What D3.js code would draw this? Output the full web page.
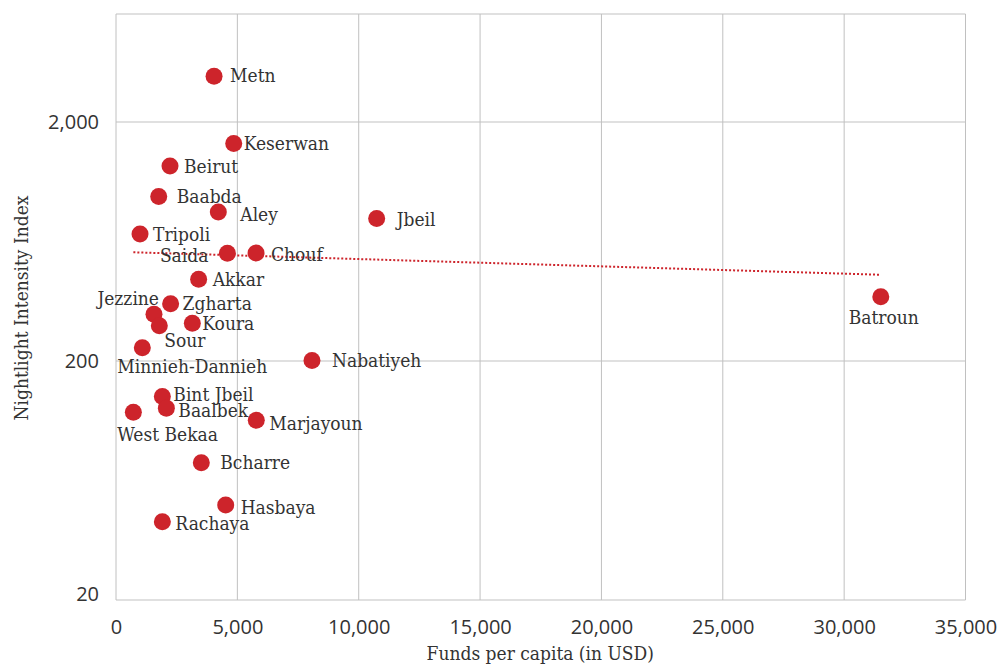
<!DOCTYPE html>
<html><head><meta charset="utf-8">
<script src="https://cdn.jsdelivr.net/npm/d3@7"></script>
<style>
html,body{margin:0;padding:0;background:#fff;}
svg{display:block;}
</style></head>
<body>
<svg id="chart" width="1000" height="664"></svg>
<script>
// ---- data ----
const districts = ["Metn","Keserwan","Beirut","Baabda","Aley","Tripoli","Saida","Chouf","Akkar","Zgharta","Jezzine","Sour","Koura","Minnieh-Dannieh","Nabatiyeh","Bint Jbeil","Baalbek","West Bekaa","Marjayoun","Bcharre","Hasbaya","Rachaya","Jbeil","Batroun"];
const fundsPerCapita = [4040,4850,2225,1760,4215,990,4590,5770,3405,2250,1565,1785,3145,1085,8075,1910,2075,715,5780,3515,4520,1910,10740,31510];
const nightlightIndex = [3110,1625,1310,975,840,680,565,566,440,347,314,281,288,227,201,142,127,122,113,75,50,42.5,790,371];
const trendX = [715,31510];
const trendY = [570,459];
const xTicks = [0,5000,10000,15000,20000,25000,30000,35000];
const yTicks = [20,200,2000];
const yMax = 5660;
const xTitle = "Funds per capita (in USD)";
const yTitle = "Nightlight Intensity Index";

// ---- label placement (layout only) ----
const labelPos = {
  "Metn":[16,-1,"start"],"Keserwan":[10,0,"start"],"Beirut":[14,0,"start"],"Baabda":[18,0,"start"],
  "Aley":[22,2,"start"],"Tripoli":[13,0,"start"],"Saida":[-19,2,"end"],"Chouf":[15,1,"start"],
  "Akkar":[14,0,"start"],"Zgharta":[12,0,"start"],"Jezzine":[5,-16,"end"],"Sour":[5,15,"start"],
  "Koura":[10,0,"start"],"Minnieh-Dannieh":[-25,19,"start"],"Nabatiyeh":[20,0,"start"],
  "Bint Jbeil":[11,-2,"start"],"Baalbek":[12,2,"start"],"West Bekaa":[-16,22,"start"],
  "Marjayoun":[13,3,"start"],"Bcharre":[19,0,"start"],"Hasbaya":[15,2,"start"],"Rachaya":[13,2,"start"],
  "Jbeil":[20,1,"start"],"Batroun":[3,20,"middle"]
};

const svg = d3.select("#chart");
const L = 116, R = 965.5, T = 14, B = 600;
const x = d3.scaleLinear().domain([0,35000]).range([L,R]);
const y = d3.scaleLog().domain([20,yMax]).range([B,T]);
const red = "#cd242b", txt = "#333";
const labelFont = "'DejaVu Serif Condensed','DejaVu Serif',serif";
const tickFont = "'Open Sans','Noto Sans',sans-serif";

// horizontal gridlines
svg.append("g").selectAll("line").data(yTicks.concat([yMax])).join("line")
  .attr("x1",L).attr("x2",R).attr("y1",d=>y(d)).attr("y2",d=>y(d))
  .attr("stroke","#d6d6d6").attr("stroke-width",1.5);
// vertical gridlines
svg.append("g").selectAll("line").data(xTicks).join("line")
  .attr("x1",d=>x(d)).attr("x2",d=>x(d)).attr("y1",T).attr("y2",B)
  .attr("stroke","#c0c0c0").attr("stroke-width",1);

// axes (labels only)
const xAxis = svg.append("g").attr("transform",`translate(0,${B})`)
  .call(d3.axisBottom(x).tickValues(xTicks).tickFormat(d3.format(",")).tickSize(0).tickPadding(20));
const yAxis = svg.append("g").attr("transform",`translate(${L},0)`)
  .call(d3.axisLeft(y).tickValues(yTicks).tickFormat(d3.format(",")).tickSize(0).tickPadding(17));
[xAxis,yAxis].forEach(a=>{
  a.select(".domain").remove();
  a.selectAll("text").attr("font-family",tickFont).attr("font-size",20).attr("fill",txt);
});
yAxis.selectAll(".tick").filter(d=>d===20).select("text").attr("y",-6);

// trend line
svg.append("line")
  .attr("x1",x(trendX[0])).attr("y1",y(trendY[0])).attr("x2",x(trendX[1])).attr("y2",y(trendY[1]))
  .attr("stroke",red).attr("stroke-width",2).attr("stroke-dasharray","2,2");

// points
const pts = districts.map((n,i)=>({name:n,fx:fundsPerCapita[i],ny:nightlightIndex[i]}));
svg.append("g").selectAll("circle").data(pts).join("circle")
  .attr("cx",d=>x(d.fx)).attr("cy",d=>y(d.ny)).attr("r",8.5).attr("fill",red);

// labels
svg.append("g").selectAll("text").data(pts).join("text")
  .attr("x",d=>x(d.fx)+labelPos[d.name][0]).attr("y",d=>y(d.ny)+labelPos[d.name][1])
  .attr("dy","0.35em").attr("text-anchor",d=>labelPos[d.name][2])
  .attr("font-family",labelFont).attr("font-size",19).attr("fill",txt)
  .text(d=>d.name);

// axis titles
svg.append("text").attr("x",(L+R)/2-0.5).attr("y",660).attr("text-anchor","middle")
  .attr("font-family",labelFont).attr("font-size",19).attr("fill",txt).text(xTitle);
svg.append("text").attr("transform","translate(28,308) rotate(-90)").attr("text-anchor","middle")
  .attr("font-family",labelFont).attr("font-size",19).attr("fill",txt).text(yTitle);
</script>
</body></html>
